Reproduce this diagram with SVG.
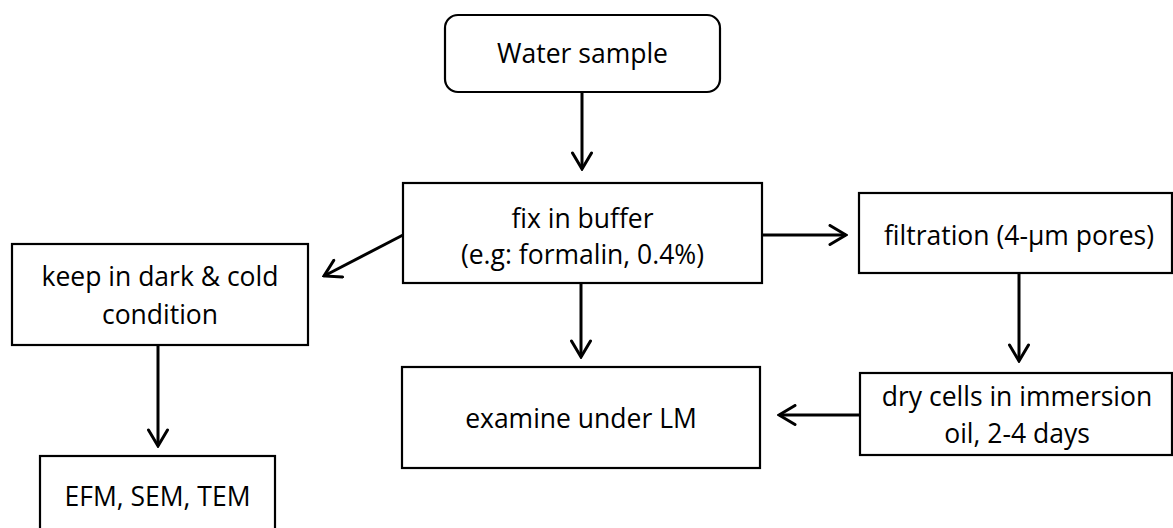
<svg xmlns="http://www.w3.org/2000/svg" width="1173" height="528" viewBox="0 0 1173 528">
<defs>
<marker id="arr" markerUnits="userSpaceOnUse" viewBox="0 0 20 22" markerWidth="20" markerHeight="22" refX="18" refY="11" orient="auto">
<path d="M2,1.5 L18,11 L2,20.5" fill="none" stroke="#000" stroke-width="3" stroke-linecap="round" stroke-linejoin="miter"/>
</marker>
</defs>
<style>
.box{fill:#fff;stroke:#000;stroke-width:2.2}
.t{font-family:"Open Sans",Lato,"Liberation Sans",sans-serif;font-size:26.5px;fill:#000;text-anchor:middle;font-variant-ligatures:none}
.c{stroke:#000;stroke-width:3;fill:none;marker-end:url(#arr)}
</style>
<rect width="1173" height="528" fill="#fff"/>
<g id="connectors">
<line class="c" x1="582" y1="93" x2="582" y2="169"/>
<line class="c" x1="403" y1="235" x2="324" y2="276"/>
<line class="c" x1="762" y1="235" x2="846" y2="235"/>
<line class="c" x1="581" y1="284" x2="581" y2="357"/>
<line class="c" x1="1019" y1="274" x2="1019" y2="361"/>
<line class="c" x1="860" y1="415" x2="779" y2="415"/>
<line class="c" x1="158" y1="346" x2="158" y2="446"/>
</g>
<g id="water">
<rect class="box" x="445" y="15" width="275" height="77" rx="13"/>
<text class="t" x="582.5" y="63">Water sample</text>
</g>
<g id="fix">
<rect class="box" x="403" y="183" width="359" height="100"/>
<text class="t" x="582.5" y="228">fix in buffer</text>
<text class="t" x="582.5" y="264">(e.g: formalin, 0.4%)</text>
</g>
<g id="keep">
<rect class="box" x="12" y="244" width="296" height="101"/>
<text class="t" x="160" y="286">keep in dark &amp; cold</text>
<text class="t" x="160" y="324">condition</text>
</g>
<g id="filtration">
<rect class="box" x="859" y="193" width="313" height="80"/>
<text class="t" x="1019" y="245">filtration (4-µm pores)</text>
</g>
<g id="dry">
<rect class="box" x="860" y="373" width="312" height="82"/>
<text class="t" x="1017" y="406">dry cells in immersion</text>
<text class="t" x="1017" y="443">oil, 2-4 days</text>
</g>
<g id="examine">
<rect class="box" x="402" y="367" width="358" height="101"/>
<text class="t" x="581" y="428">examine under LM</text>
</g>
<g id="efm">
<rect class="box" x="40" y="456" width="235" height="80"/>
<text class="t" x="157.5" y="506">EFM, SEM, TEM</text>
</g>
</svg>
